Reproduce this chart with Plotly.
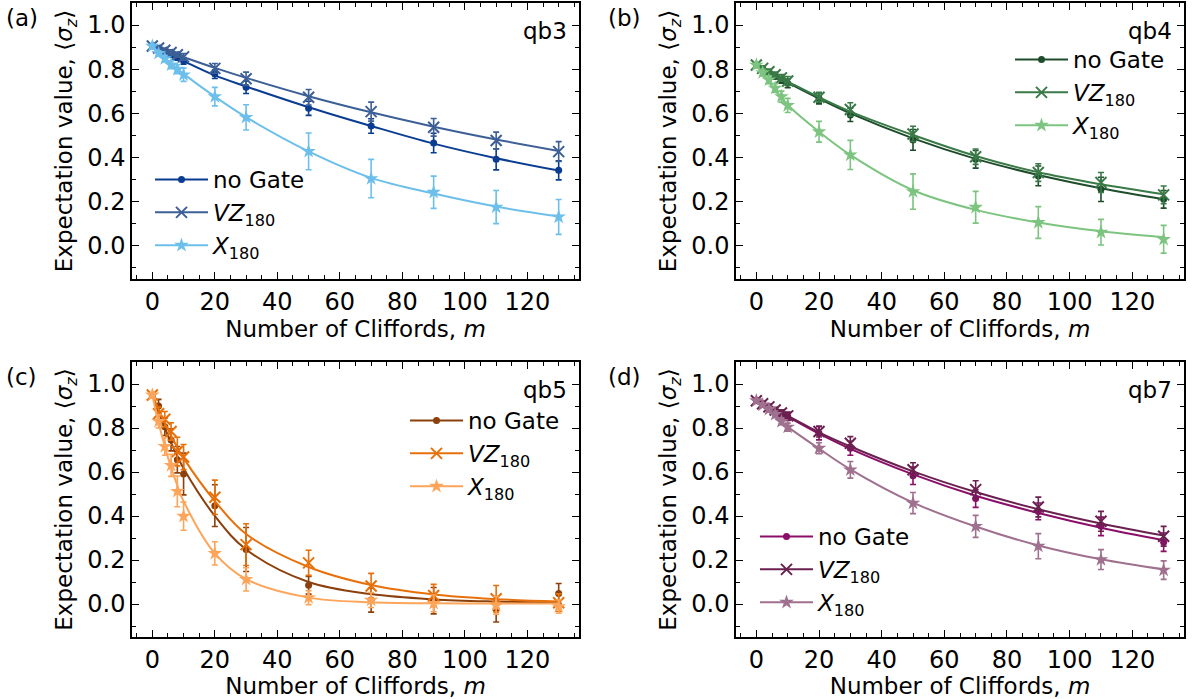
import plotly.graph_objects as go

# ---------------- data ----------------
m_vals = [0, 2, 4, 6, 8, 10, 20, 30, 50, 70, 90, 110, 130]

# panel (a) qb3
a_nogate = [0.905, 0.893, 0.878, 0.866, 0.853, 0.838, 0.778, 0.718, 0.623, 0.543, 0.466, 0.392, 0.342]
a_nogate_err = [0.008, 0.01, 0.01, 0.012, 0.012, 0.015, 0.02, 0.028, 0.032, 0.033, 0.044, 0.048, 0.043]
a_nogate_fit = [0.905, 0.891, 0.877, 0.863, 0.850, 0.837, 0.772, 0.722, 0.628, 0.543, 0.463, 0.397, 0.341]
a_vz = [0.905, 0.896, 0.886, 0.876, 0.866, 0.856, 0.804, 0.757, 0.673, 0.608, 0.537, 0.477, 0.427]
a_vz_err = [0.008, 0.01, 0.01, 0.012, 0.012, 0.015, 0.022, 0.03, 0.035, 0.043, 0.04, 0.038, 0.045]
a_vz_fit = [0.905, 0.895, 0.885, 0.875, 0.865, 0.855, 0.806, 0.761, 0.678, 0.605, 0.540, 0.482, 0.430]
a_x = [0.905, 0.872, 0.848, 0.820, 0.800, 0.775, 0.676, 0.582, 0.428, 0.305, 0.243, 0.176, 0.131]
a_x_err = [0.008, 0.012, 0.015, 0.018, 0.02, 0.03, 0.042, 0.057, 0.083, 0.087, 0.073, 0.075, 0.079]
a_x_fit = [0.905, 0.877, 0.851, 0.826, 0.802, 0.779, 0.676, 0.583, 0.428, 0.308, 0.237, 0.178, 0.133]

# panel (b) qb4
b_nogate = [0.819, 0.802, 0.785, 0.768, 0.752, 0.736, 0.668, 0.593, 0.480, 0.392, 0.317, 0.256, 0.211]
b_nogate_err = [0.008, 0.01, 0.012, 0.012, 0.015, 0.02, 0.025, 0.03, 0.047, 0.04, 0.045, 0.055, 0.04]
b_nogate_fit = [0.819, 0.802, 0.786, 0.770, 0.754, 0.739, 0.667, 0.600, 0.487, 0.394, 0.321, 0.261, 0.211]
b_vz = [0.819, 0.804, 0.789, 0.775, 0.761, 0.747, 0.673, 0.618, 0.507, 0.404, 0.332, 0.287, 0.231]
b_vz_err = [0.008, 0.01, 0.012, 0.012, 0.015, 0.02, 0.022, 0.03, 0.035, 0.035, 0.04, 0.045, 0.04]
b_vz_fit = [0.819, 0.803, 0.788, 0.773, 0.758, 0.744, 0.673, 0.608, 0.502, 0.407, 0.333, 0.279, 0.234]
b_x = [0.819, 0.785, 0.752, 0.715, 0.676, 0.636, 0.517, 0.412, 0.246, 0.175, 0.106, 0.062, 0.030]
b_x_err = [0.008, 0.015, 0.018, 0.02, 0.025, 0.032, 0.047, 0.066, 0.08, 0.072, 0.072, 0.058, 0.063]
b_x_fit = [0.819, 0.778, 0.740, 0.704, 0.670, 0.638, 0.517, 0.412, 0.252, 0.163, 0.106, 0.066, 0.039]

# panel (c) qb5
c_nogate = [0.950, 0.900, 0.806, 0.746, 0.656, 0.591, 0.447, 0.248, 0.085, 0.018, 0.015, -0.024, 0.048]
c_nogate_err = [0.01, 0.03, 0.04, 0.05, 0.06, 0.095, 0.095, 0.1, 0.04, 0.055, 0.06, 0.058, 0.045]
c_nogate_fit = [0.950, 0.872, 0.800, 0.733, 0.672, 0.616, 0.400, 0.248, 0.100, 0.045, 0.021, 0.011, 0.006]
c_vz = [0.950, 0.865, 0.840, 0.784, 0.693, 0.668, 0.485, 0.270, 0.187, 0.082, 0.039, 0.024, 0.006]
c_vz_err = [0.01, 0.03, 0.035, 0.04, 0.065, 0.057, 0.078, 0.095, 0.057, 0.057, 0.05, 0.06, 0.04]
c_vz_fit = [0.950, 0.884, 0.822, 0.765, 0.712, 0.663, 0.468, 0.318, 0.168, 0.086, 0.043, 0.022, 0.011]
c_x = [0.950, 0.830, 0.716, 0.630, 0.512, 0.399, 0.230, 0.112, 0.029, 0.018, 0.003, -0.006, -0.012]
c_x_err = [0.01, 0.03, 0.04, 0.05, 0.07, 0.064, 0.053, 0.053, 0.032, 0.034, 0.038, 0.04, 0.03]
c_x_fit = [0.950, 0.825, 0.716, 0.621, 0.539, 0.467, 0.230, 0.113, 0.029, 0.008, 0.003, 0.002, 0.002]

# panel (d) qb7
d_nogate = [0.924, 0.910, 0.895, 0.880, 0.866, 0.852, 0.776, 0.708, 0.583, 0.479, 0.421, 0.353, 0.281]
d_nogate_err = [0.008, 0.01, 0.012, 0.012, 0.015, 0.018, 0.03, 0.032, 0.04, 0.04, 0.038, 0.042, 0.042]
d_nogate_fit = [0.924, 0.909, 0.894, 0.879, 0.865, 0.851, 0.774, 0.705, 0.589, 0.492, 0.414, 0.347, 0.290]
d_vz = [0.924, 0.910, 0.896, 0.882, 0.868, 0.855, 0.784, 0.731, 0.610, 0.520, 0.441, 0.376, 0.308]
d_vz_err = [0.008, 0.01, 0.012, 0.012, 0.015, 0.018, 0.025, 0.03, 0.032, 0.04, 0.045, 0.045, 0.045]
d_vz_fit = [0.924, 0.910, 0.896, 0.882, 0.868, 0.855, 0.780, 0.716, 0.603, 0.509, 0.431, 0.366, 0.311]
d_x = [0.924, 0.905, 0.885, 0.862, 0.830, 0.804, 0.708, 0.610, 0.459, 0.353, 0.263, 0.202, 0.154]
d_x_err = [0.008, 0.01, 0.012, 0.015, 0.015, 0.018, 0.025, 0.038, 0.048, 0.05, 0.057, 0.045, 0.042]
d_x_fit = [0.924, 0.899, 0.874, 0.850, 0.827, 0.805, 0.706, 0.612, 0.461, 0.352, 0.266, 0.203, 0.157]

series_names = ["no Gate", "<i>VZ</i><sub>180</sub>", "<i>X</i><sub>180</sub>"]
panel_labels = ["(a)", "(b)", "(c)", "(d)"]
qubit_labels = ["qb3", "qb4", "qb5", "qb7"]
x_title = "Number of Cliffords, <i>m</i>"
y_title = "Expectation value, ⟨<i>σ</i><sub><i>z</i></sub>⟩"

# ---------------- style ----------------
FONT = "DejaVu Sans"
FS = 23
FS_TICK = 24
W, H = 1192, 699

panels = [
    dict(data=[(a_nogate, a_nogate_err, a_nogate_fit), (a_vz, a_vz_err, a_vz_fit), (a_x, a_x_err, a_x_fit)],
         colors=["#0a3d91", "#3c5f96", "#6dbfeb"],
         box=(132, 579, 3, 279), legend=dict(x=150, y=158)),
    dict(data=[(b_nogate, b_nogate_err, b_nogate_fit), (b_vz, b_vz_err, b_vz_fit), (b_x, b_x_err, b_x_fit)],
         colors=["#1e4d2b", "#3a7a47", "#7cc47f"],
         box=(736, 1184, 3, 279), legend=dict(x=1010, y=38)),
    dict(data=[(c_nogate, c_nogate_err, c_nogate_fit), (c_vz, c_vz_err, c_vz_fit), (c_x, c_x_err, c_x_fit)],
         colors=["#8c400c", "#e8700a", "#fda55a"],
         box=(132, 579, 362, 637), legend=dict(x=405, y=399)),
    dict(data=[(d_nogate, d_nogate_err, d_nogate_fit), (d_vz, d_vz_err, d_vz_fit), (d_x, d_x_err, d_x_fit)],
         colors=["#8b0e68", "#6a2150", "#a0708f"],
         box=(736, 1184, 362, 637), legend=dict(x=755, y=515)),
]

symbols = [
    dict(symbol="circle", size=7),
    dict(symbol="x-thin", size=11),
    dict(symbol="star", size=11),
]

fig = go.Figure()
layout = {}
annotations = []

for i, p in enumerate(panels):
    k = "" if i == 0 else str(i + 1)
    xa, ya = "x" + k, "y" + k
    leg = "legend" + k
    for j, (vals, errs, fit) in enumerate(p["data"]):
        col = p["colors"][j]
        mk = dict(symbol=symbols[j]["symbol"], size=symbols[j]["size"], color=col,
                  line=dict(width=2 if j == 1 else 0, color=col))
        # fit curve
        fig.add_trace(go.Scatter(x=m_vals, y=fit, mode="lines", line=dict(color=col, width=2, shape="spline"),
                                 xaxis=xa, yaxis=ya, showlegend=False, hoverinfo="skip"))
        # data with error bars
        fig.add_trace(go.Scatter(x=m_vals, y=vals, mode="markers", marker=mk,
                                 error_y=dict(type="data", array=errs, color=col, thickness=1.6, width=3),
                                 xaxis=xa, yaxis=ya, showlegend=False, name=series_names[j]))
        # legend entry
        fig.add_trace(go.Scatter(x=[None], y=[None], mode="lines+markers", marker=mk,
                                 line=dict(color=col, width=2), name=series_names[j],
                                 xaxis=xa, yaxis=ya, legend=leg, showlegend=True))
    x0, x1, y0, y1 = p["box"]
    common = dict(showline=True, linecolor="black", linewidth=1.5, mirror="allticks",
                  ticks="inside", ticklen=7, tickwidth=1.3, tickcolor="black",
                  showgrid=False, zeroline=False,
                  tickfont=dict(family=FONT, size=FS_TICK, color="black"))
    layout["xaxis" + k] = dict(common, domain=[x0 / W, x1 / W], anchor=ya, range=[-6.5, 136.5],
                               tick0=0, dtick=20,
                               minor=dict(ticks="inside", ticklen=4, tickwidth=1, tickcolor="black", dtick=5),
                               title=dict(text=x_title, font=dict(family=FONT, size=FS, color="black"), standoff=1))
    layout["yaxis" + k] = dict(common, domain=[1 - y1 / H, 1 - y0 / H], anchor=xa, range=[-0.15, 1.1],
                               tick0=0, dtick=0.2, tickformat=".1f",
                               minor=dict(ticks="inside", ticklen=4, tickwidth=1, tickcolor="black", dtick=0.1),
                               title=dict(text=y_title, font=dict(family=FONT, size=FS, color="black"), standoff=8))
    lg = p["legend"]
    layout[leg] = dict(x=lg["x"] / W, y=1 - lg["y"] / H, xanchor="left", yanchor="top",
                       xref="paper", yref="paper", bgcolor="rgba(0,0,0,0)", itemwidth=53,
                       font=dict(family=FONT, size=FS, color="black"), tracegroupgap=0)
    annotations.append(dict(text=qubit_labels[i], xref="paper", yref="paper", x=(x1 - 10) / W,
                            y=1 - (y0 + 13) / H, xanchor="right", yanchor="top", showarrow=False,
                            font=dict(family=FONT, size=FS, color="black")))
    annotations.append(dict(text=panel_labels[i], xref="paper", yref="paper", x=(4 if x0 < 600 else 606) / W,
                            y=1 - (y0 + 0) / H, xanchor="left", yanchor="top", showarrow=False,
                            font=dict(family=FONT, size=FS, color="black")))

fig.update_layout(**layout)
fig.update_layout(width=W, height=H, margin=dict(l=0, r=0, t=0, b=0),
                  paper_bgcolor="white", plot_bgcolor="white",
                  font=dict(family=FONT, size=FS, color="black"),
                  annotations=annotations)

fig.write_html("out.html")
